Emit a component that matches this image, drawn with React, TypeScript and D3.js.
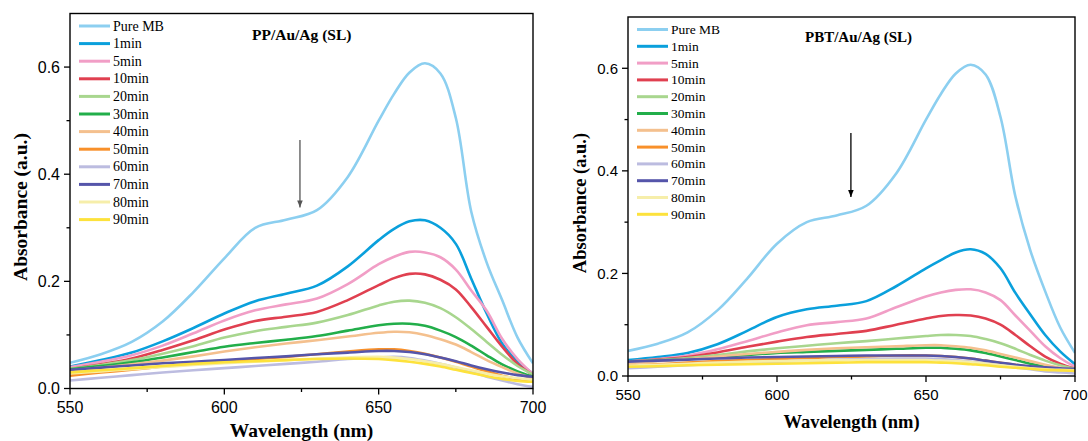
import React from "react";
import * as d3 from "d3";

const wavelengths = [550, 560, 570, 580, 590, 600, 610, 620, 630, 640, 650, 655, 660, 665, 670, 675, 680, 685, 690, 695, 700];

const seriesNames = ["Pure MB", "1min", "5min", "10min", "20min", "30min", "40min", "50min", "60min", "70min", "80min", "90min"];
const seriesColors = ["#8ccff0", "#0aa0dc", "#f19ec6", "#e04050", "#a8d68e", "#22ae4a", "#f4c08e", "#f8902a", "#bcbce0", "#5555aa", "#f6eeaa", "#fde23c"];

// Left panel: PP/Au/Ag (SL)
const ppPure = [0.048, 0.064, 0.087, 0.125, 0.18, 0.243, 0.3, 0.315, 0.333, 0.395, 0.5, 0.55, 0.59, 0.607, 0.588, 0.505, 0.33, 0.235, 0.165, 0.095, 0.047];
const pp1 = [0.041, 0.053, 0.067, 0.088, 0.113, 0.14, 0.163, 0.177, 0.192, 0.228, 0.277, 0.298, 0.312, 0.314, 0.3, 0.27, 0.205, 0.14, 0.084, 0.05, 0.028];
const pp5 = [0.04, 0.05, 0.062, 0.08, 0.103, 0.127, 0.146, 0.157, 0.168, 0.195, 0.232, 0.246, 0.255, 0.254, 0.245, 0.222, 0.183, 0.145, 0.093, 0.055, 0.027];
const pp10 = [0.036, 0.045, 0.056, 0.072, 0.09, 0.11, 0.126, 0.134, 0.143, 0.165, 0.193, 0.206, 0.214, 0.213, 0.203, 0.185, 0.152, 0.115, 0.078, 0.046, 0.025];
const pp20 = [0.037, 0.044, 0.053, 0.065, 0.079, 0.095, 0.107, 0.115, 0.123, 0.137, 0.155, 0.162, 0.164, 0.16, 0.15, 0.133, 0.111, 0.087, 0.063, 0.042, 0.026];
const pp30 = [0.036, 0.042, 0.049, 0.058, 0.068, 0.078, 0.085, 0.091, 0.098, 0.108, 0.118, 0.121, 0.121, 0.117, 0.108, 0.096, 0.08, 0.062, 0.045, 0.032, 0.022];
const pp40 = [0.033, 0.039, 0.045, 0.052, 0.06, 0.069, 0.077, 0.084, 0.09, 0.097, 0.104, 0.106, 0.105, 0.1, 0.092, 0.082, 0.068, 0.053, 0.04, 0.028, 0.019];
const pp50 = [0.024, 0.03, 0.035, 0.041, 0.046, 0.05, 0.055, 0.059, 0.064, 0.069, 0.073, 0.073, 0.07, 0.065, 0.058, 0.05, 0.041, 0.032, 0.024, 0.017, 0.0125];
const pp60 = [0.015, 0.02, 0.025, 0.03, 0.034, 0.038, 0.042, 0.046, 0.05, 0.055, 0.058, 0.059, 0.057, 0.052, 0.046, 0.039, 0.031, 0.022, 0.015, 0.008, 0.003];
const pp70 = [0.035, 0.039, 0.043, 0.047, 0.05, 0.053, 0.057, 0.06, 0.064, 0.067, 0.07, 0.07, 0.068, 0.064, 0.058, 0.051, 0.043, 0.036, 0.03, 0.025, 0.022];
const pp80 = [0.028, 0.032, 0.036, 0.04, 0.044, 0.047, 0.05, 0.053, 0.056, 0.058, 0.059, 0.058, 0.055, 0.051, 0.046, 0.04, 0.034, 0.028, 0.023, 0.019, 0.016];
const pp90 = [0.03, 0.034, 0.038, 0.042, 0.046, 0.049, 0.051, 0.053, 0.055, 0.056, 0.055, 0.053, 0.05, 0.046, 0.041, 0.035, 0.029, 0.023, 0.018, 0.014, 0.0125];

// Right panel: PBT/Au/Ag (SL)
const pbtPure = [0.049, 0.063, 0.085, 0.128, 0.19, 0.258, 0.3, 0.313, 0.332, 0.395, 0.5, 0.55, 0.59, 0.607, 0.588, 0.505, 0.35, 0.245, 0.165, 0.095, 0.045];
const pbt1 = [0.031, 0.037, 0.045, 0.062, 0.088, 0.115, 0.13, 0.137, 0.146, 0.175, 0.21, 0.226, 0.241, 0.247, 0.238, 0.21, 0.162, 0.12, 0.08, 0.048, 0.023];
const pbt5 = [0.028, 0.033, 0.04, 0.052, 0.068, 0.085, 0.099, 0.105, 0.112, 0.134, 0.155, 0.163, 0.168, 0.169, 0.163, 0.148, 0.118, 0.088, 0.058, 0.035, 0.018];
const pbt10 = [0.028, 0.032, 0.037, 0.046, 0.057, 0.067, 0.076, 0.082, 0.088, 0.1, 0.112, 0.117, 0.119, 0.118, 0.112, 0.1, 0.08, 0.058, 0.038, 0.024, 0.014];
const pbt20 = [0.028, 0.031, 0.035, 0.041, 0.048, 0.054, 0.059, 0.064, 0.068, 0.073, 0.078, 0.08, 0.08, 0.078, 0.072, 0.064, 0.053, 0.041, 0.03, 0.021, 0.014];
const pbt30 = [0.027, 0.03, 0.033, 0.037, 0.041, 0.045, 0.047, 0.049, 0.051, 0.053, 0.055, 0.055, 0.053, 0.05, 0.045, 0.038, 0.031, 0.024, 0.018, 0.014, 0.011];
const pbt40 = [0.025, 0.029, 0.033, 0.038, 0.043, 0.047, 0.051, 0.054, 0.056, 0.058, 0.06, 0.06, 0.058, 0.055, 0.05, 0.043, 0.036, 0.029, 0.022, 0.016, 0.012];
const pbt50 = [0.02, 0.023, 0.026, 0.029, 0.031, 0.033, 0.035, 0.037, 0.038, 0.04, 0.04, 0.039, 0.037, 0.034, 0.03, 0.026, 0.022, 0.018, 0.015, 0.012, 0.01];
const pbt60 = [0.015, 0.018, 0.021, 0.024, 0.026, 0.028, 0.03, 0.032, 0.033, 0.034, 0.034, 0.033, 0.031, 0.028, 0.025, 0.021, 0.017, 0.013, 0.009, 0.007, 0.005];
const pbt70 = [0.028, 0.03, 0.032, 0.034, 0.036, 0.037, 0.038, 0.039, 0.04, 0.04, 0.04, 0.039, 0.037, 0.034, 0.03, 0.026, 0.022, 0.019, 0.017, 0.015, 0.014];
const pbt80 = [0.02, 0.022, 0.024, 0.026, 0.028, 0.029, 0.03, 0.031, 0.031, 0.031, 0.031, 0.03, 0.029, 0.027, 0.024, 0.021, 0.018, 0.015, 0.013, 0.012, 0.011];
const pbt90 = [0.018, 0.019, 0.021, 0.022, 0.023, 0.024, 0.025, 0.026, 0.027, 0.027, 0.027, 0.026, 0.025, 0.023, 0.021, 0.018, 0.016, 0.014, 0.012, 0.011, 0.01];

const xMajorTicks = [550, 600, 650, 700];
const xMinorTicks = [575, 625, 675];
const yMajorTicks = [0, 0.2, 0.4, 0.6];
const yMinorTicks = [0.1, 0.3, 0.5];

const SERIF = "'Liberation Serif', 'Times New Roman', serif";
const SANS = "'Liberation Sans', Arial, sans-serif";

type PanelProps = {
  left: number; right: number; top: number; bottom: number;
  title: string; titleX: number; titleY: number; titleSize: number;
  series: number[][];
  arrow: { x: number; y0: number; y1: number; color: string };
  tickFont: number; legendFont: number; legendStep: number; axisFont: number;
  yTitleX: number; yTitleY: number; xTitleY: number;
  id: string;
};

function Panel(p: PanelProps) {
  const x = d3.scaleLinear().domain([550, 700]).range([p.left, p.right]);
  const y = d3.scaleLinear().domain([0, 0.7]).range([p.bottom, p.top]);
  const line = d3.line<number>()
    .x((_, i) => x(wavelengths[i]))
    .y((v) => y(v))
    .curve(d3.curveCatmullRom.alpha(0.5));
  const legX = p.left + 9;
  const legY = p.top + 12.5;
  return (
    <g>
      <defs>
        <clipPath id={"clip" + p.id}>
          <rect x={p.left} y={p.top} width={p.right - p.left} height={p.bottom - p.top} />
        </clipPath>
        <marker id={"arr" + p.id} viewBox="0 0 10 10" refX="10" refY="5" markerWidth="7" markerHeight="7" orient="auto" markerUnits="userSpaceOnUse">
          <path d="M0,1 L10,5 L0,9 Z" fill={p.arrow.color} />
        </marker>
      </defs>
      <g clipPath={`url(#clip${p.id})`}>
        {p.series.map((s, i) => (
          <path key={i} d={line(s) || ""} fill="none" stroke={seriesColors[i]} strokeWidth={2.6} strokeLinejoin="round" />
        ))}
      </g>
      <rect x={p.left} y={p.top} width={p.right - p.left} height={p.bottom - p.top} fill="none" stroke="#000" strokeWidth={1.4} />
      {xMajorTicks.map((t) => (
        <g key={"xm" + t}>
          <line x1={x(t)} x2={x(t)} y1={p.bottom} y2={p.bottom + 6} stroke="#000" strokeWidth={1.3} />
          <text x={x(t)} y={p.bottom + 24} textAnchor="middle" fontFamily={SANS} fontSize={p.tickFont}>{t}</text>
        </g>
      ))}
      {xMinorTicks.map((t) => (
        <line key={"xn" + t} x1={x(t)} x2={x(t)} y1={p.bottom} y2={p.bottom + 3.5} stroke="#000" strokeWidth={1.3} />
      ))}
      {yMajorTicks.map((t) => (
        <g key={"ym" + t}>
          <line x1={p.left - 6} x2={p.left} y1={y(t)} y2={y(t)} stroke="#000" strokeWidth={1.3} />
          <text x={p.left - 10} y={y(t)} dy="0.35em" textAnchor="end" fontFamily={SANS} fontSize={p.tickFont}>{t.toFixed(1)}</text>
        </g>
      ))}
      {yMinorTicks.map((t) => (
        <line key={"yn" + t} x1={p.left - 3.5} x2={p.left} y1={y(t)} y2={y(t)} stroke="#000" strokeWidth={1.3} />
      ))}
      <text x={p.titleX} y={p.titleY} fontFamily={SERIF} fontWeight="bold" fontSize={p.titleSize}>{p.title}</text>
      <line x1={x(p.arrow.x)} x2={x(p.arrow.x)} y1={y(p.arrow.y0)} y2={y(p.arrow.y1)} stroke={p.arrow.color} strokeWidth={1.3} markerEnd={`url(#arr${p.id})`} />
      {seriesNames.map((n, i) => (
        <g key={"lg" + i}>
          <line x1={legX} x2={legX + 31} y1={legY + i * p.legendStep} y2={legY + i * p.legendStep} stroke={seriesColors[i]} strokeWidth={3} />
          <text x={legX + 34} y={legY + i * p.legendStep} dy="0.33em" fontFamily={SERIF} fontSize={p.legendFont}>{n}</text>
        </g>
      ))}
      <text x={(p.left + p.right) / 2} y={p.xTitleY} textAnchor="middle" fontFamily={SERIF} fontWeight="bold" fontSize={p.axisFont}>Wavelength (nm)</text>
      <text transform={`translate(${p.yTitleX},${p.yTitleY}) rotate(-90)`} textAnchor="middle" dy="0.35em" fontFamily={SERIF} fontWeight="bold" fontSize={p.axisFont}>Absorbance (a.u.)</text>
    </g>
  );
}

export default function App() {
  const ppSeries = [ppPure, pp1, pp5, pp10, pp20, pp30, pp40, pp50, pp60, pp70, pp80, pp90];
  const pbtSeries = [pbtPure, pbt1, pbt5, pbt10, pbt20, pbt30, pbt40, pbt50, pbt60, pbt70, pbt80, pbt90];
  return (
    <svg width={1088} height={441} style={{ position: "absolute", left: 0, top: 0, background: "#fff" }}>
      <Panel id="L" left={70} right={533} top={13.5} bottom={388.5}
        title="PP/Au/Ag (SL)" titleX={252} titleY={40} titleSize={15.5}
        series={ppSeries} arrow={{ x: 624.5, y0: 0.464, y1: 0.338, color: "#555" }}
        tickFont={16} legendFont={14} legendStep={17.6} axisFont={19.5}
        yTitleX={20} yTitleY={207} xTitleY={437} />
      <Panel id="R" left={628} right={1075} top={17} bottom={376}
        title="PBT/Au/Ag (SL)" titleX={805} titleY={42} titleSize={15}
        series={pbtSeries} arrow={{ x: 624.8, y0: 0.474, y1: 0.349, color: "#000" }}
        tickFont={15} legendFont={13.5} legendStep={16.8} axisFont={18.5}
        yTitleX={580} yTitleY={203} xTitleY={428} />
    </svg>
  );
}
